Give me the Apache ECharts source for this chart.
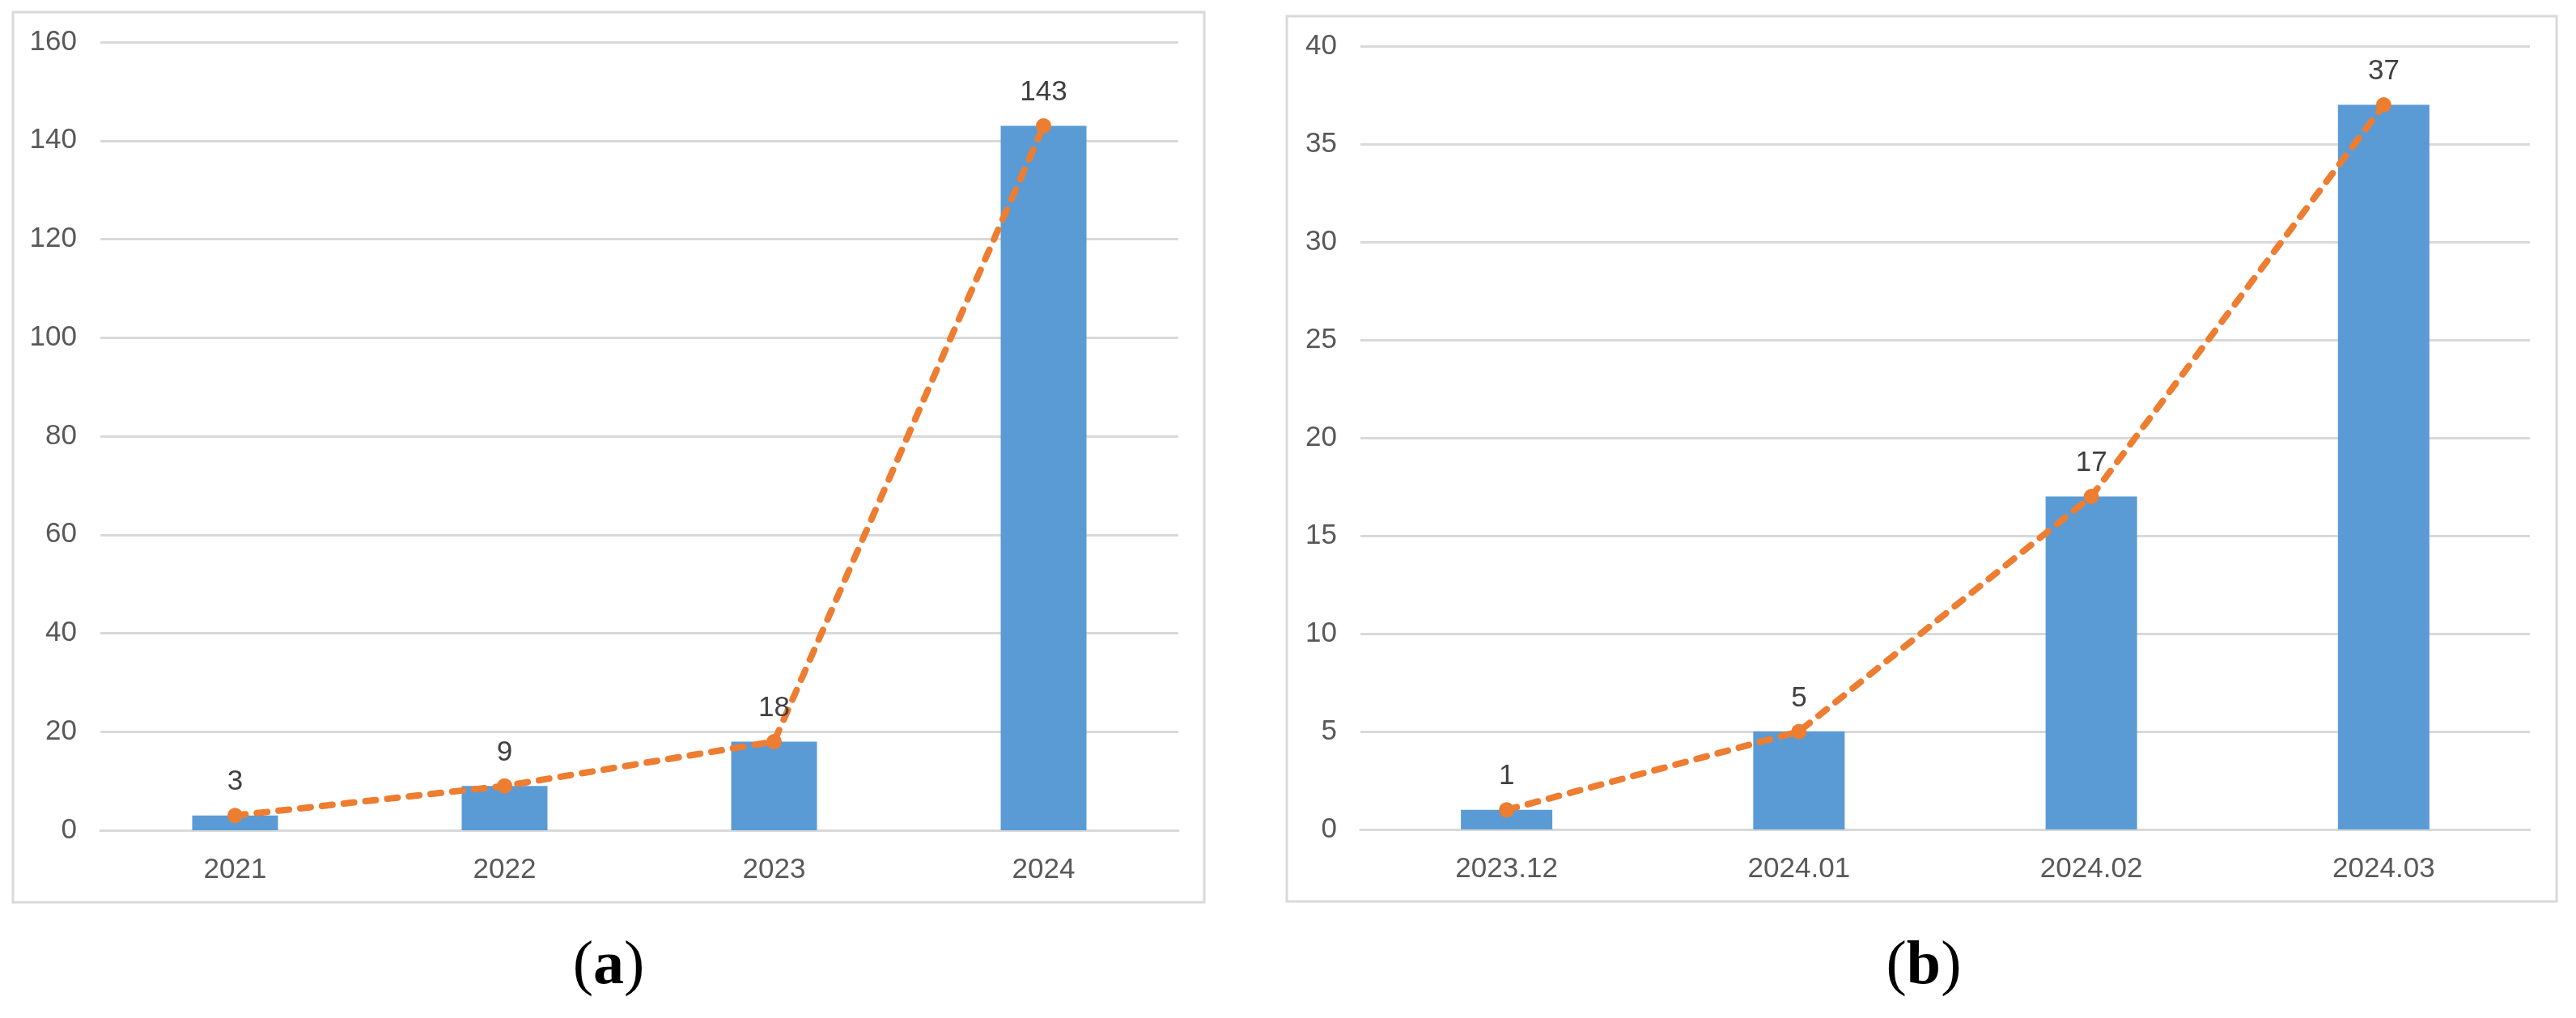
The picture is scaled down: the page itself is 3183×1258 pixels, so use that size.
<!DOCTYPE html>
<html><head><meta charset="utf-8">
<script src="https://cdn.jsdelivr.net/npm/echarts@6/dist/echarts.min.js"></script>
<style>html,body{margin:0;padding:0;background:#fff}#c{width:3183px;height:1258px}</style>
</head><body><div id="c"></div>
<script>
const catsA = ['2021','2022','2023','2024'];
const valsA = [3, 9, 18, 143];
const catsB = ['2023.12','2024.01','2024.02','2024.03'];
const valsB = [1, 5, 17, 37];
const yTicksA = {min:0, max:160, interval:20};
const yTicksB = {min:0, max:40, interval:5};

const BAR = '#5B9BD5', LINE = '#ED7D31', GRID = '#D9D9D9';
const FONT = 'Liberation Sans, Arial, sans-serif';

function xAxis(idx, data){
  return {type:'category', gridIndex:idx, data:data,
    axisLine:{show:true, lineStyle:{color:GRID, width:3}},
    axisTick:{show:false},
    axisLabel:{color:'#595959', fontSize:35, fontFamily:FONT, margin:32}};
}
function yAxis(idx, t){
  return {type:'value', gridIndex:idx, min:t.min, max:t.max, interval:t.interval,
    axisLine:{show:false}, axisTick:{show:false},
    splitLine:{lineStyle:{color:GRID, width:3}},
    axisLabel:{color:'#595959', fontSize:35, fontFamily:FONT, margin:29}};
}
function lineSeries(idx, vals){
  return {type:'line', xAxisIndex:idx, yAxisIndex:idx, data:vals,
    symbol:'circle', symbolSize:19, z:5,
    itemStyle:{color:LINE},
    lineStyle:{color:LINE, width:8, type:[13,14], cap:'round'},
    label:{show:true, position:'top', distance:14, color:'#404040', fontSize:35, fontFamily:FONT}};
}
const chart = echarts.init(document.getElementById('c'));
chart.setOption({
  animation:false,
  grid:[
    {left:124, right:3183-1456, top:52, height:974},
    {left:1681, right:3183-3126, top:57, height:968}
  ],
  xAxis:[xAxis(0, catsA), xAxis(1, catsB)],
  yAxis:[yAxis(0, yTicksA), yAxis(1, yTicksB)],
  series:[
    {type:'bar', xAxisIndex:0, yAxisIndex:0, data:valsA, barWidth:106, itemStyle:{color:BAR}},
    lineSeries(0, valsA),
    {type:'bar', xAxisIndex:1, yAxisIndex:1, data:valsB, barWidth:113, itemStyle:{color:BAR}},
    lineSeries(1, valsB)
  ],
  graphic:[
    {type:'rect', shape:{x:16, y:15, width:1472, height:1100}, style:{fill:'none', stroke:GRID, lineWidth:3}, z:-1},
    {type:'rect', shape:{x:1590, y:20, width:1569, height:1094}, style:{fill:'none', stroke:GRID, lineWidth:3}, z:-1},
    {type:'text', x:752, y:1195, style:{text:'{p|(}{b|a}{p|)}', align:'center', verticalAlign:'middle',
      rich:{p:{fontSize:76, fontFamily:'Liberation Serif, serif', fill:'#000'}, b:{fontSize:76, fontWeight:'bold', fontFamily:'Liberation Serif, serif', fill:'#000'}}}},
    {type:'text', x:2377, y:1195, style:{text:'{p|(}{b|b}{p|)}', align:'center', verticalAlign:'middle',
      rich:{p:{fontSize:76, fontFamily:'Liberation Serif, serif', fill:'#000'}, b:{fontSize:76, fontWeight:'bold', fontFamily:'Liberation Serif, serif', fill:'#000'}}}}
  ]
});
</script></body></html>
